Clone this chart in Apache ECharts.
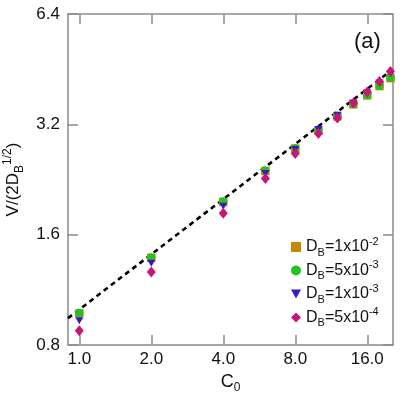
<!DOCTYPE html>
<html><head><meta charset="utf-8">
<script src="https://cdn.jsdelivr.net/npm/echarts@6/dist/echarts.min.js"></script>
<style>html,body{margin:0;padding:0;background:#fff}#c{width:407px;height:407px}</style>
</head><body><div id="c"></div>
<script>
// ---- data ----
const C0 = [1, 2, 4, 6, 8, 10, 12, 14, 16, 18, 20];
const vDB1e2 = [0.976, 1.383, 1.966, 2.387, 2.747, 3.082, 3.364, 3.628, 3.838, 4.07, 4.279];
const vDB5e3 = [0.978, 1.386, 1.972, 2.392, 2.752, 3.088, 3.372, 3.638, 3.85, 4.085, 4.298];
const vDB1e3 = [0.932, 1.338, 1.913, 2.349, 2.73, 3.1, 3.39, 3.66, 3.9, 4.15, 4.4];
const vDB5e4 = [0.875, 1.265, 1.831, 2.276, 2.663, 3.019, 3.33, 3.66, 3.918, 4.19, 4.46];
const fitC = [0.897, 20.0];
const fitV = [0.947, 4.47];
const xTicks = [1, 2, 4, 8, 16];
const yTicks = [0.8, 1.6, 3.2, 6.4];
const seriesNames = ['DB=1x10-2', 'DB=5x10-3', 'DB=1x10-3', 'DB=5x10-4'];
const legendRich = {
  'DB=1x10-2': ['1x10', '-2'],
  'DB=5x10-3': ['5x10', '-3'],
  'DB=1x10-3': ['1x10', '-3'],
  'DB=5x10-4': ['5x10', '-4']
};

const FONT = 'Liberation Sans';
const pair = (xs, ys) => xs.map((x, i) => [x, ys[i]]);
const axisCol = '#8a8a8a';

const chart = echarts.init(document.getElementById('c'), null, {renderer: 'canvas'});
const richStyles = {
  n: {fontSize: 16, fontFamily: FONT, color: '#111', lineHeight: 22, verticalAlign: 'middle'},
  s: {fontSize: 11, fontFamily: FONT, color: '#111', lineHeight: 11, verticalAlign: 'bottom'},
  p: {fontSize: 11, fontFamily: FONT, color: '#111', lineHeight: 13, verticalAlign: 'top'}
};
const nameRich = {
  n: {fontSize: 17, fontFamily: FONT, color: '#111', lineHeight: 24, verticalAlign: 'middle'},
  s: {fontSize: 12, fontFamily: FONT, color: '#111', lineHeight: 12, verticalAlign: 'bottom'},
  p: {fontSize: 12, fontFamily: FONT, color: '#111', lineHeight: 12, verticalAlign: 'top'}
};
const xNameRich = {
  n: {fontSize: 18, fontFamily: FONT, color: '#111', lineHeight: 24, verticalAlign: 'middle'},
  s: {fontSize: 12, fontFamily: FONT, color: '#111', lineHeight: 12, verticalAlign: 'bottom'}
};
const xMin = 0.897, xMax = 20.5, yMin = 0.8, yMax = 6.4;
const invTri = 'path://M0,0 L10,0 L5,9 Z';

const mkScatter = (name, data, symbol, size, color) => ({
  name, type: 'scatter', data, symbol, symbolSize: size,
  itemStyle: {color, opacity: 1}, xAxisIndex: 0, yAxisIndex: 0, silent: true, z: 3
});

chart.setOption({
  animation: false,
  backgroundColor: '#fff',
  grid: {left: 68, right: 14, top: 14, bottom: 62, containLabel: false, outerBoundsMode: 'none'},
  xAxis: [{
    type: 'log', logBase: 2, min: xMin, max: xMax, position: 'bottom',
    axisLine: {show: true, lineStyle: {color: axisCol, width: 1.5}},
    axisTick: {show: true, inside: true, length: 10, customValues: xTicks, lineStyle: {color: axisCol, width: 1.5}},
    axisLabel: {show: true, customValues: xTicks, formatter: v => Number(v).toFixed(1), fontSize: 17, fontFamily: FONT, color: '#111', margin: 6},
    splitLine: {show: false}, minorTick: {show: false},
    name: '{n|C}{s|0}', nameLocation: 'middle', nameGap: 22,
    nameTextStyle: {rich: xNameRich}
  }, {
    type: 'log', logBase: 2, min: xMin, max: xMax, position: 'top',
    axisLine: {show: true, lineStyle: {color: axisCol, width: 1.5}},
    axisTick: {show: true, inside: true, length: 10, customValues: xTicks, lineStyle: {color: axisCol, width: 1.5}},
    axisLabel: {show: false}, splitLine: {show: false}
  }],
  yAxis: [{
    type: 'log', logBase: 2, min: yMin, max: yMax, position: 'left',
    axisLine: {show: true, lineStyle: {color: axisCol, width: 1.5}},
    axisTick: {show: true, inside: true, length: 10, customValues: yTicks, lineStyle: {color: axisCol, width: 1.5}},
    axisLabel: {show: true, customValues: yTicks, formatter: v => Number(v).toFixed(1), fontSize: 17, fontFamily: FONT, color: '#111', margin: 8},
    splitLine: {show: false},
    name: '{n|V/(2D}{s|B}{p|1/2}{n|)}', nameLocation: 'middle', nameGap: 39, nameRotate: 90,
    nameTextStyle: {rich: nameRich}
  }, {
    type: 'log', logBase: 2, min: yMin, max: yMax, position: 'right',
    axisLine: {show: true, lineStyle: {color: axisCol, width: 1.5}},
    axisTick: {show: true, inside: true, length: 10, customValues: yTicks, lineStyle: {color: axisCol, width: 1.5}},
    axisLabel: {show: false}, splitLine: {show: false}
  }],
  legend: {
    data: seriesNames, orient: 'vertical', left: 286, top: 231,
    itemWidth: 10, itemHeight: 10, itemGap: 1.5,
    textStyle: {rich: richStyles},
    formatter: name => '{n|D}{s|B}{n|=' + legendRich[name][0] + '}{p|' + legendRich[name][1] + '}'
  },
  graphic: [{
    type: 'text', left: 354, top: 31,
    style: {text: '(a)', fontSize: 22, fontFamily: FONT, fill: '#111'}
  }],
  series: [
    {
      name: 'fit', type: 'line', data: pair(fitC, fitV), showSymbol: false, symbol: 'none',
      lineStyle: {color: '#000', width: 2.6, type: [5, 4]}, z: 2, silent: true
    },
    mkScatter(seriesNames[0], pair(C0, vDB1e2), 'rect', 8.5, '#c4880e'),
    mkScatter(seriesNames[1], pair(C0, vDB5e3), 'circle', 8.5, '#22c41e'),
    mkScatter(seriesNames[2], pair(C0, vDB1e3), invTri, [8, 7], '#3b16c8'),
    mkScatter(seriesNames[3], pair(C0, vDB5e4), 'diamond', [9, 11], '#c8157a')
  ]
});
</script></body></html>
